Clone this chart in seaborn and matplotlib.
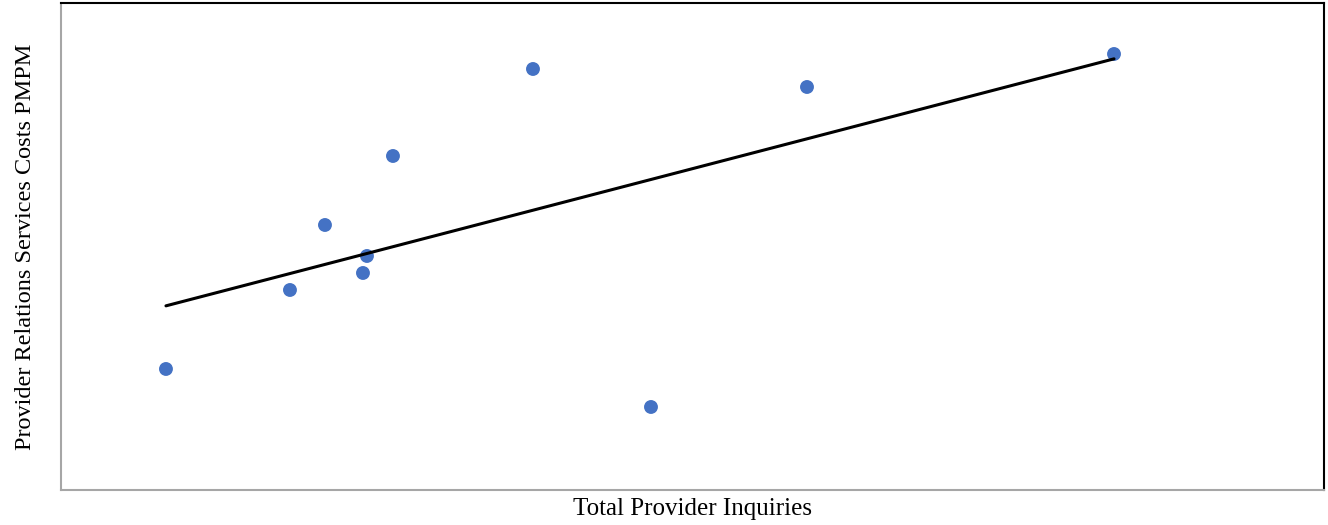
import numpy as np
import pandas as pd
import matplotlib
matplotlib.use("Agg")
import matplotlib.pyplot as plt
import seaborn as sns

# values (axis has no tick labels, arbitrary units)
inquiries = [105, 229, 264, 302, 306, 332, 472, 590, 746, 1053]
costs_pmpm = [121, 200, 265, 217, 234, 334, 421, 83, 403, 436]

df = pd.DataFrame({"inquiries": inquiries, "costs": costs_pmpm})

sns.set_style("white")
plt.rcParams["font.family"] = ["Liberation Serif", "DejaVu Serif"]

fig = plt.figure(figsize=(13.28, 5.25), dpi=100)
ax = fig.add_axes([0.0459, 0.0667, 0.9511, 0.9276])

sns.regplot(data=df, x="inquiries", y="costs", ci=None, ax=ax,
            scatter_kws={"s": 100, "color": "#4472C4", "edgecolor": "none", "alpha": 1},
            line_kws={"color": "black", "linewidth": 2.2})

ax.set_xlim(0, 1263)
ax.set_ylim(0, 487)
ax.set_xticks([])
ax.set_yticks([])
ax.set_xlabel("Total Provider Inquiries", fontsize=18, color="black", labelpad=6)
ax.set_ylabel("Provider Relations Services Costs PMPM", fontsize=17.5, color="black", labelpad=18)

for side in ["left", "bottom"]:
    ax.spines[side].set_color("#a6a6a6")
    ax.spines[side].set_linewidth(1.5)
for side in ["top", "right"]:
    ax.spines[side].set_color("black")
    ax.spines[side].set_linewidth(1.5)

fig.savefig("out.png", dpi=100)
